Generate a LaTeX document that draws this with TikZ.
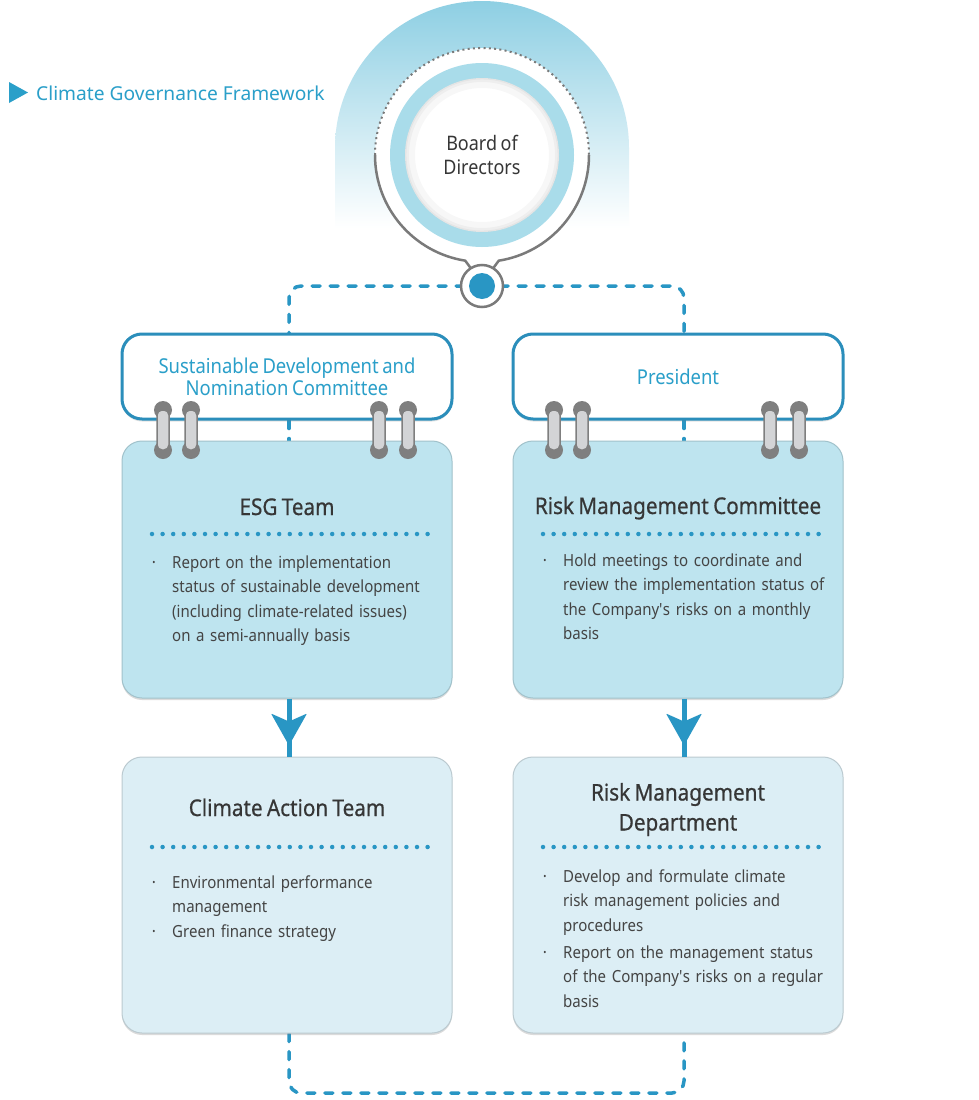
\documentclass[tikz,border=0pt]{standalone}
\usepackage{fontspec}
\setmainfont{Noto Sans}[FakeStretch=0.9, WordSpace=0.75]
\newfontfamily\headfont{Noto Sans}
\newfontfamily\boxfont{Noto Sans}[FakeStretch=0.9, WordSpace=0.8, FakeBold=0.6]
\usetikzlibrary{shadows,calc}
\pgfdeclarelayer{bg}
\pgfdeclarelayer{lines}
\pgfsetlayers{bg,lines,main}
\definecolor{cblue}{HTML}{2A9FC9}
\definecolor{dblue}{HTML}{2996C4}
\definecolor{bordblue}{HTML}{2B8EBB}
\definecolor{archtop}{HTML}{8ECFE3}
\definecolor{archmid}{HTML}{C6E7F1}
\definecolor{ringblue}{HTML}{A9DCEA}
\definecolor{boxA}{HTML}{BEE4EF}
\definecolor{boxB}{HTML}{DCEEF5}
\definecolor{txt}{HTML}{363636}
\definecolor{body}{HTML}{444444}
\definecolor{ringdark}{HTML}{7F7F7F}
\definecolor{ringlight}{HTML}{D3D4D6}
\definecolor{pingray}{HTML}{7A7A7A}
\begin{document}
\begin{tikzpicture}[x=1pt,y=-1pt,
  flow/.style={draw=dblue, line width=3.5pt, dash pattern=on 8pt off 10pt, line cap=round, rounded corners=12pt},
  stem/.style={draw=dblue, line width=5pt},
  dotsep/.style={draw=dblue, line width=4.5pt, line cap=round, dash pattern=on 0pt off 10.6pt},
  combox/.style={draw=bordblue, line width=3pt, fill=white, rounded corners=20pt,
    minimum width=330pt, minimum height=85pt, align=center, text=cblue,
    font=\fontsize{20.5}{22.3}\selectfont,
    drop shadow={opacity=0.22, shadow xshift=0pt, shadow yshift=-2.5pt}},
  teambox/.style={rounded corners=20pt, minimum width=330pt, draw=#1!85!black,
    line width=1pt, fill=#1,
    drop shadow={opacity=0.28, shadow xshift=0pt, shadow yshift=-2pt}},
  boxtitle/.style={anchor=base, inner sep=0pt, text=txt, align=center,
    font=\boxfont\fontsize{23}{30}\selectfont},
  item/.style={anchor=base west, inner sep=0pt, text=body, text width=300pt,
    align=left, font=\fontsize{16.7}{24.6}\selectfont},
  bul/.style={anchor=base, inner sep=0pt, text=body, font=\fontsize{17}{24.6}\selectfont},
  pinstyle/.style={circle, draw=pingray, line width=2.5pt, fill=white, minimum size=42pt, inner sep=0pt}
]
\useasboundingbox (0,0) rectangle (979,1100);
\begin{pgfonlayer}{bg}
  \fill[white] (0,0) rectangle (979,1100);
  \shade[top color=archtop, middle color=archmid, bottom color=white] (335,228) -- (335,148)
     arc[start angle=180, end angle=360, radius=147] -- (629,228) -- cycle;
\end{pgfonlayer}

% title
\fill[cblue] (9,82) -- (28,92.5) -- (9,103) -- cycle;
\node[anchor=base west, inner sep=0pt, text=cblue, font=\headfont\fontsize{19.2}{23}\selectfont] (title) at (36,100) {Climate Governance Framework};

% board pin
\coordinate (bc) at (482,155);
\coordinate (pc) at (482,286);
\coordinate (jl) at (289,286);
\coordinate (jr) at (684,286);
\coordinate (bl) at (289,1093);
\coordinate (br) at (684,1093);
\fill[white] (bc) circle (107);
\draw[pingray, line width=2pt, dash pattern=on 2pt off 3.3pt] ($(bc)+(180:107)$) arc[start angle=180, end angle=360, radius=107];
\draw[pingray, line width=2.5pt] ($(bc)+(180:107)$) arc[start angle=180, end angle=99, radius=107] -- ($(pc)+(238:20)$);
\draw[pingray, line width=2.5pt] ($(bc)+(0:107)$) arc[start angle=0, end angle=81, radius=107] -- ($(pc)+(302:20)$);
\fill[ringblue] (bc) circle (92);
\node[circle, fill=white, minimum size=154pt, inner sep=0pt, align=center, text=txt,
  font=\fontsize{20}{23.3}\selectfont] (board) at (bc) {Board of\\Directors};
\draw[black, opacity=0.03, line width=10pt] (bc) circle (72);
\draw[black, opacity=0.035, line width=4pt] (bc) circle (75);
\draw[black, opacity=0.035, line width=1.5pt] (bc) circle (76.3);
\node[pinstyle] (pin) at (pc) {};
\fill[dblue] (pin.center) circle (13);

% boxes
\node[combox] (sdnc) at (287,376.5) {Sustainable Development and\\Nomination Committee};
\node[combox] (pres) at (678,376.5) {President};
\node[teambox=boxA, minimum height=257pt] (esg) at (287,569.5) {};
\node[teambox=boxA, minimum height=257pt] (rmc) at (678,569.5) {};
\node[teambox=boxB, minimum height=276pt] (cat) at (287,895) {};
\node[teambox=boxB, minimum height=276pt] (rmd) at (678,895) {};

% connectors
\begin{pgfonlayer}{lines}
  \draw[flow] (pin.center) -| (sdnc.north -| jl);
  \draw[flow] (pin.center) -| (pres.north -| jr);
  \draw[flow] (sdnc.south -| jl) -- (esg.north -| jl);
  \draw[flow] (pres.south -| jr) -- (rmc.north -| jr);
  \draw[flow] (cat.south -| bl) -- (bl) -- (br) -- (rmd.south -| br);
\end{pgfonlayer}

% arrows
\coordinate (al) at (esg.south -| jl);
\coordinate (ar) at (rmc.south -| jr);
\draw[stem] (al) -- (cat.north -| jl);
\draw[stem] (ar) -- (rmd.north -| jr);
\foreach \a in {al,ar}{
  \fill[dblue, rounded corners=1pt] ($(\a)+(-18,15)$) -- ($(\a)+(0,23)$) -- ($(\a)+(18,15)$) -- ($(\a)+(0,47)$) -- cycle;
}

% rings
\foreach \x in {163,191,379,408,554,582,770,799}{
  \fill[ringdark] (\x,410) circle (9);
  \fill[ringdark] (\x,450) circle (9);
  \draw[ringdark, fill=ringlight, line width=1.5pt, rounded corners=5pt] (\x-6,410) rectangle (\x+6,450);
}

% ESG team
\node[boxtitle] (esgt) at (287,515) {ESG Team};
\draw[dotsep] (152,534) -- (428,534);
\node[bul] (b1) at (154,568) {·};
\node[item] (esgi) at (172,568) {Report on the implementation\\status of sustainable development\\(including climate-related issues)\\on a semi-annually basis};

% Risk Management Committee
\node[boxtitle] (rmct) at (678,514) {Risk Management Committee};
\draw[dotsep] (543,534) -- (819,534);
\node[bul] (b2) at (545,566) {·};
\node[item] (rmci) at (563,566) {Hold meetings to coordinate and\\review the implementation status of\\the Company\textquotesingle s risks on a monthly\\basis};

% Climate Action Team
\node[boxtitle] (catt) at (287,816) {Climate Action Team};
\draw[dotsep] (152,847) -- (428,847);
\node[bul] (b3) at (154,888) {·};
\node[item] (cati1) at (172,888) {Environmental performance\\management};
\node[bul] (b4) at (154,937.5) {·};
\node[item] (cati2) at (172,937.5) {Green finance strategy};

% Risk Management Department
\node[boxtitle] (rmdt) at (678,830.5) {Risk Management\\Department};
\draw[dotsep] (543,847) -- (819,847);
\node[bul] (b5) at (545,882) {·};
\node[item] (rmdi1) at (563,882) {Develop and formulate climate\\risk management policies and\\procedures};
\node[bul] (b6) at (545,958) {·};
\node[item] (rmdi2) at (563,958) {Report on the management status\\of the Company\textquotesingle s risks on a regular\\basis};
\end{tikzpicture}
\end{document}
